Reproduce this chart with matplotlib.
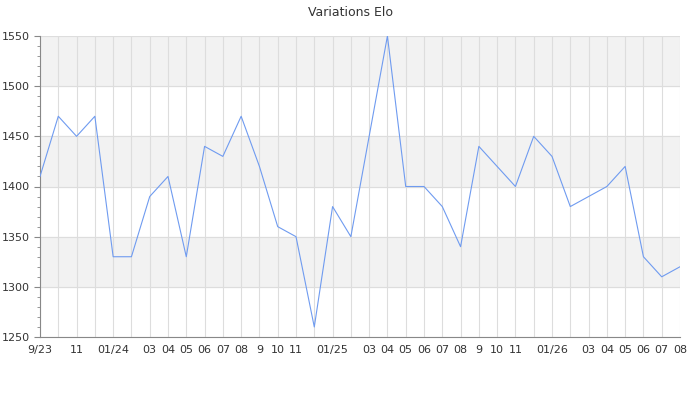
import matplotlib
matplotlib.use("Agg")
from matplotlib import pyplot as plt
from matplotlib.ticker import MultipleLocator

# monthly Elo values, 09/2023 -> 08/2026
elo = [1410, 1470, 1450, 1470, 1330, 1330, 1390, 1410, 1330, 1440, 1430, 1470,
       1420, 1360, 1350, 1260, 1380, 1350, 1450, 1550, 1400, 1400, 1380, 1340,
       1440, 1420, 1400, 1450, 1430, 1380, 1390, 1400, 1420, 1330, 1310, 1320]
month_labels = ["9/23", "", "11", "", "01/24", "", "03", "04", "05", "06", "07", "08",
                "9", "10", "11", "", "01/25", "", "03", "04", "05", "06", "07", "08",
                "9", "10", "11", "", "01/26", "", "03", "04", "05", "06", "07", "08"]

fig = plt.figure(figsize=(7, 4), dpi=100)
ax = fig.add_axes([40 / 700, 1 - 337 / 400, 640 / 700, 301 / 400])

x = list(range(len(elo)))

# alternating horizontal bands
for lo in (1300, 1400, 1500):
    ax.axhspan(lo, lo + 50, color="#f2f2f2", zorder=0)

ax.plot(x, elo, color="#6f9bf0", linewidth=0.8, zorder=3)

ax.set_xlim(0, len(elo) - 1)
ax.set_ylim(1250, 1550)
ax.set_xticks(x)
ax.set_xticklabels(month_labels)
ax.yaxis.set_major_locator(MultipleLocator(50))
ax.yaxis.set_minor_locator(MultipleLocator(10))

ax.grid(True, which="major", color="#dddddd", linewidth=0.8, zorder=1)
ax.set_axisbelow(True)

for side in ("top", "right"):
    ax.spines[side].set_visible(False)
for side in ("left", "bottom"):
    ax.spines[side].set_color("#888888")

ax.tick_params(axis="x", length=0, labelsize=8, colors="#333333", pad=6)
ax.tick_params(axis="y", which="major", length=4, labelsize=8, colors="#333333")
ax.tick_params(axis="y", which="minor", length=2, color="#888888")
ax.tick_params(axis="y", which="major", color="#888888")

fig.text(0.5, 1 - 12 / 400, "Variations Elo", ha="center", va="center", fontsize=9, color="#333333")

fig.savefig("out.png", dpi=100)
